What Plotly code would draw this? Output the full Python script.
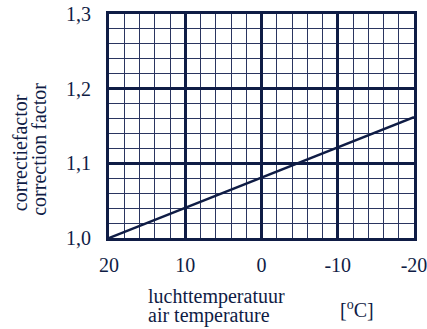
import plotly.graph_objects as go

temps = [20, -20]
factor = [1.0, 1.162]
x_ticks = [20, 10, 0, -10, -20]
x_labels = ["20", "10", "0", "-10", "-20"]
y_ticks = [1.0, 1.1, 1.2, 1.3]
y_labels = ["1,0", "1,1", "1,2", "1,3"]

navy = "#0f1c45"
font = "Liberation Serif"

fig = go.Figure()
fig.add_trace(go.Scatter(x=temps, y=factor, mode="lines",
                         line=dict(color=navy, width=2.5), showlegend=False))

fig.update_layout(
    width=427, height=329,
    margin=dict(l=109, r=13, t=14, b=91),
    paper_bgcolor="white", plot_bgcolor="white",
    font=dict(family=font, color=navy, size=20),
    xaxis=dict(range=[20, -20], tickmode="array", tickvals=x_ticks, ticktext=x_labels,
               showgrid=True, gridcolor=navy, gridwidth=3,
               minor=dict(tickmode="linear", tick0=0, dtick=2, showgrid=True,
                          gridcolor="#2a3560", gridwidth=1),
               showline=True, linecolor=navy, linewidth=3, mirror=True, automargin=False,
               ticks="", zeroline=False, ticklabelstandoff=7, ticklabeloverflow="allow",
               tickfont=dict(size=20, family=font, color=navy)),
    yaxis=dict(range=[1.0, 1.3], tickmode="array", tickvals=y_ticks, ticktext=y_labels,
               showgrid=True, gridcolor=navy, gridwidth=3,
               minor=dict(tickmode="linear", tick0=1.0, dtick=0.02, showgrid=True,
                          gridcolor="#2a3560", gridwidth=1),
               showline=True, linecolor=navy, linewidth=3, mirror=True, automargin=False,
               ticks="", zeroline=False, ticklabelstandoff=11, ticklabeloverflow="allow",
               tickfont=dict(size=20, family=font, color=navy)),
)

def note(text, x, y, xanchor="center", angle=0):
    fig.add_annotation(text=text, xref="paper", yref="paper", x=x, y=y,
                       xanchor=xanchor, yanchor="middle", showarrow=False, textangle=angle,
                       font=dict(size=20, family=font, color=navy))

note("luchttemperatuur", 0.1213, -0.263, xanchor="left")
note("air temperature", 0.1213, -0.348, xanchor="left")
note("[<sup>o</sup>C]", 0.813, -0.317)
note("correctiefactor", -0.291, 0.38, angle=-90)
note("correction factor", -0.232, 0.395, angle=-90)

# remove the default 8px page margin so the figure fills the window exactly
fig.write_html("out.html", config={"displayModeBar": False},
               post_script="document.body.style.margin='0';")
